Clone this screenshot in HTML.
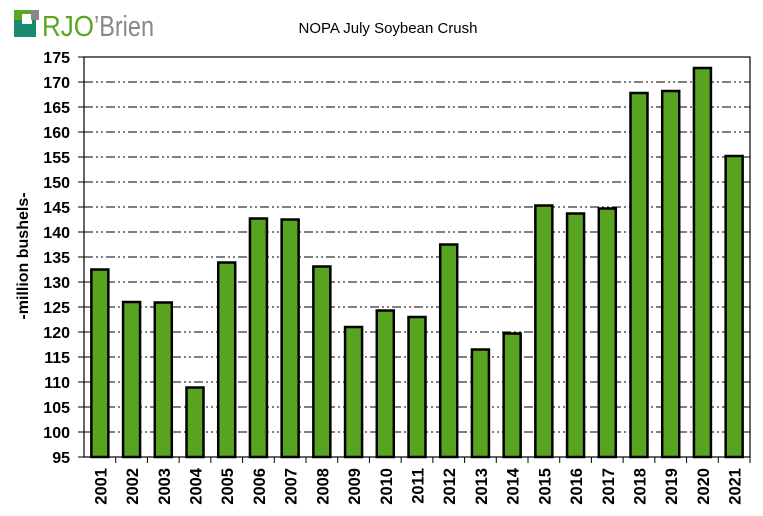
<!DOCTYPE html>
<html><head><style>body{margin:0;background:#fff}svg{display:block}</style></head><body>
<svg width="763" height="516" xmlns="http://www.w3.org/2000/svg" font-family="Liberation Sans, Arial, sans-serif">
<rect width="763" height="516" fill="#fff"/>
<rect x="14" y="10" width="17" height="17" fill="#5aa621"/>
<rect x="14" y="20" width="22" height="17" fill="#1a8a70"/>
<rect x="22" y="14" width="10" height="10" fill="#fff"/>
<rect x="31" y="10" width="8" height="10" fill="#888"/>
<text x="42" y="36" font-size="29" fill="#5aa621" textLength="52" lengthAdjust="spacingAndGlyphs">RJO</text>
<text x="94" y="36" font-size="29" fill="#888" textLength="60" lengthAdjust="spacingAndGlyphs">’Brien</text>
<text x="388" y="33" font-size="15" text-anchor="middle">NOPA July Soybean Crush</text>
<g id="grid" stroke="#000" stroke-width="1" stroke-dasharray="9,3,2,3,2,3"></g>
<rect x="84" y="57" width="666" height="400" fill="none" stroke="#000" stroke-width="1.2"/>
<g id="bars"></g>
<g id="labels" font-size="16" font-weight="bold"></g>
<text transform="translate(28,256) rotate(-90)" font-size="16" font-weight="bold" text-anchor="middle">-million bushels-</text>
<script>
var vals=[132.5,126,125.9,108.9,133.9,142.7,142.5,133.1,121,124.3,123,137.5,116.5,119.7,145.3,143.7,144.7,167.8,168.2,172.8,155.2];
var ns="http://www.w3.org/2000/svg";
function el(t,a,p,txt){var e=document.createElementNS(ns,t);for(var k in a)e.setAttribute(k,a[k]);if(txt)e.textContent=txt;document.getElementById(p).appendChild(e);return e;}
for(var v=95;v<=175;v+=5){var y=457-(v-95)*5;
 if(v>95&&v<175)el('line',{x1:84,x2:750,y1:y,y2:y},'grid');
 el('line',{x1:78,x2:84,y1:y,y2:y,stroke:'#000'},'bars');
 el('text',{x:70,y:y+6,'text-anchor':'end'},'labels',String(v));}
var cw=666/21;
for(var i=0;i<21;i++){var cx=84+cw*(i+0.5),y=457-(vals[i]-95)*5;
 el('rect',{x:cx-8.5,y:y,width:17,height:457-y,fill:'#58a421',stroke:'#000','stroke-width':2.5},'bars');
 var tx=84+cw*(i+1);el('line',{x1:tx,x2:tx,y1:457,y2:463,stroke:'#000'},'bars');
 el('text',{transform:'translate('+(cx+6.5)+',468) rotate(-90)','text-anchor':'end','font-size':16.5},'labels',String(2001+i));}
</script>
</svg>
</body></html>
